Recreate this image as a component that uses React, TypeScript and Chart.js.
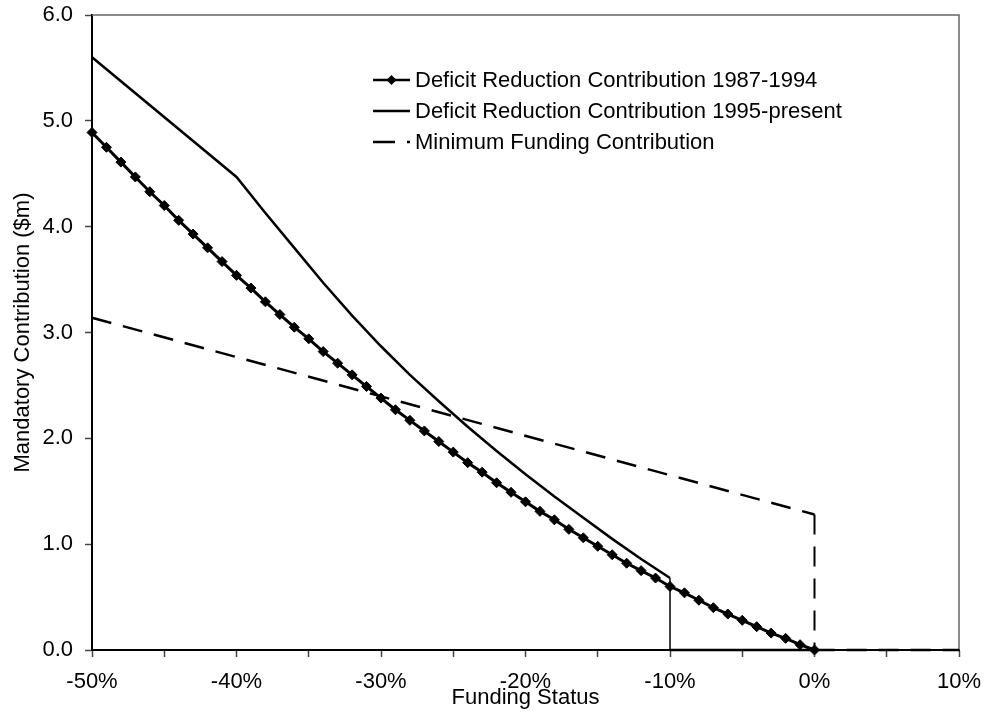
import React, { useEffect, useRef } from "react";
import { Chart, registerables } from "chart.js";

Chart.register(...registerables);

// Funding status (%) for the 1987-1994 DRC series (one point per 1%)
const fundingPct8794 = [
  -50, -49, -48, -47, -46, -45, -44, -43, -42, -41,
  -40, -39, -38, -37, -36, -35, -34, -33, -32, -31,
  -30, -29, -28, -27, -26, -25, -24, -23, -22, -21,
  -20, -19, -18, -17, -16, -15, -14, -13, -12, -11,
  -10, -9, -8, -7, -6, -5, -4, -3, -2, -1, 0,
];
const drc8794 = [
  4.89, 4.75, 4.61, 4.47, 4.33, 4.2, 4.06, 3.93, 3.8, 3.67,
  3.54, 3.42, 3.29, 3.17, 3.05, 2.94, 2.82, 2.71, 2.6, 2.49,
  2.38, 2.27, 2.17, 2.07, 1.97, 1.87, 1.77, 1.68, 1.58, 1.49,
  1.4, 1.31, 1.23, 1.14, 1.06, 0.98, 0.9, 0.82, 0.75, 0.68,
  0.6, 0.54, 0.47, 0.4, 0.34, 0.28, 0.22, 0.16, 0.11, 0.05, 0.0,
];

// DRC 1995-present
const fundingPct95 = [-50, -40, -38, -36, -34, -32, -30, -28, -26, -24, -22, -20, -18, -16, -14, -12, -10, -10, 0];
const drc95 = [5.6, 4.47, 4.13, 3.8, 3.47, 3.16, 2.87, 2.6, 2.35, 2.11, 1.88, 1.66, 1.45, 1.25, 1.05, 0.86, 0.68, 0, 0];

// Minimum funding contribution
const fundingPctMin = [-50, 0, 0, 10];
const minFunding = [3.14, 1.28, 0, 0];

const legendLabels = [
  "Deficit Reduction Contribution 1987-1994",
  "Deficit Reduction Contribution 1995-present",
  "Minimum Funding Contribution",
];

const xTitle = "Funding Status";
const yTitle = "Mandatory Contribution ($m)";

const FONT = "'Liberation Sans', Arial, Helvetica, sans-serif";
const FS = 22;

const toPoints = (xs: number[], ys: number[]) => xs.map((x, i) => ({ x, y: ys[i] }));

const frameAndLegend = {
  id: "frameAndLegend",
  beforeDatasetsDraw(chart: any) {
    const { ctx, chartArea } = chart;
    ctx.save();
    ctx.strokeStyle = "#666";
    ctx.lineWidth = 1.5;
    ctx.beginPath();
    ctx.moveTo(chartArea.left, chartArea.top);
    ctx.lineTo(chartArea.right, chartArea.top);
    ctx.lineTo(chartArea.right, chartArea.bottom);
    ctx.stroke();
    ctx.restore();
  },
  afterDraw(chart: any) {
    const { ctx } = chart;
    const x0 = 373;
    const x1 = 410;
    const tx = 415;
    const rows = [80, 111, 142];
    ctx.save();
    ctx.font = `${FS}px ${FONT}`;
    ctx.fillStyle = "#000";
    ctx.textBaseline = "middle";
    ctx.textAlign = "left";
    rows.forEach((y, i) => {
      ctx.strokeStyle = "#000";
      ctx.lineWidth = 2.5;
      ctx.setLineDash(i === 2 ? [22, 12] : []);
      ctx.beginPath();
      ctx.moveTo(x0, y);
      ctx.lineTo(x1, y);
      ctx.stroke();
      ctx.setLineDash([]);
      if (i === 0) {
        const cx = (x0 + x1) / 2;
        const r = 5;
        ctx.beginPath();
        ctx.moveTo(cx, y - r);
        ctx.lineTo(cx + r, y);
        ctx.lineTo(cx, y + r);
        ctx.lineTo(cx - r, y);
        ctx.closePath();
        ctx.fill();
      }
      ctx.fillText(legendLabels[i], tx, y + 1);
    });
    ctx.restore();
  },
};

export default function App() {
  const canvasRef = useRef<HTMLCanvasElement | null>(null);

  useEffect(() => {
    if (!canvasRef.current) return;
    const vertical = (w: number) => (ctx: any) =>
      ctx.p0.parsed.x === ctx.p1.parsed.x ? w : undefined;

    const chart = new Chart(canvasRef.current, {
      type: "line",
      data: {
        datasets: [
          {
            label: legendLabels[0],
            data: toPoints(fundingPct8794, drc8794),
            borderColor: "#000",
            borderWidth: 3,
            pointStyle: "rectRot",
            pointRadius: 5,
            pointBackgroundColor: "#000",
            pointBorderColor: "#000",
            pointBorderWidth: 1,
            tension: 0,
            clip: 10,
          },
          {
            label: legendLabels[1],
            data: toPoints(fundingPct95, drc95),
            borderColor: "#000",
            borderWidth: 2.5,
            pointRadius: 0,
            tension: 0,
            clip: 10,
            segment: { borderWidth: vertical(1.5) },
          },
          {
            label: legendLabels[2],
            data: toPoints(fundingPctMin, minFunding),
            borderColor: "#000",
            borderWidth: 2.5,
            borderDash: [20, 12],
            pointRadius: 0,
            tension: 0,
            clip: 10,
            segment: { borderWidth: vertical(2) },
          },
        ],
      } as any,
      options: {
        animation: false,
        responsive: false,
        layout: { padding: { top: 15, right: 28, left: 0, bottom: 0 } },
        plugins: {
          legend: { display: false },
          tooltip: { enabled: false },
        },
        scales: {
          x: {
            type: "linear",
            min: -50,
            max: 10,
            afterFit: (s: any) => {
              s.height = 69;
              s.paddingLeft = 0;
              s.paddingRight = 0;
            },
            ticks: {
              stepSize: 5,
              autoSkip: false,
              maxRotation: 0,
              padding: 12,
              color: "#000",
              font: { family: FONT, size: FS },
              callback: (v: any) => (Math.round(v) % 10 === 0 ? `${Math.round(v)}%` : ""),
            },
            grid: {
              drawOnChartArea: false,
              drawTicks: true,
              tickLength: 7,
              tickColor: "#444",
              tickWidth: 1.5,
            },
            border: { color: "#000", width: 2 },
            title: {
              display: true,
              text: xTitle,
              color: "#000",
              font: { family: FONT, size: FS },
              padding: { top: 0, bottom: 8 },
            },
          },
          y: {
            type: "linear",
            min: 0,
            max: 6,
            afterFit: (s: any) => {
              s.width = 92;
              s.paddingTop = 0;
              s.paddingBottom = 0;
            },
            ticks: {
              stepSize: 1,
              padding: 12,
              color: "#000",
              font: { family: FONT, size: FS },
              callback: (v: any) => Number(v).toFixed(1),
            },
            grid: {
              drawOnChartArea: false,
              drawTicks: true,
              tickLength: 7,
              tickColor: "#444",
              tickWidth: 1.5,
            },
            border: { color: "#000", width: 2 },
            title: {
              display: true,
              text: yTitle,
              color: "#000",
              font: { family: FONT, size: FS },
              padding: { top: 10, bottom: 0 },
            },
          },
        },
      },
      plugins: [frameAndLegend],
    } as any);

    return () => chart.destroy();
  }, []);

  return (
    <div style={{ position: "fixed", left: 0, top: 0, width: 987, height: 719, background: "#fff" }}>
      <canvas ref={canvasRef} width={987} height={719} style={{ display: "block" }} />
    </div>
  );
}
